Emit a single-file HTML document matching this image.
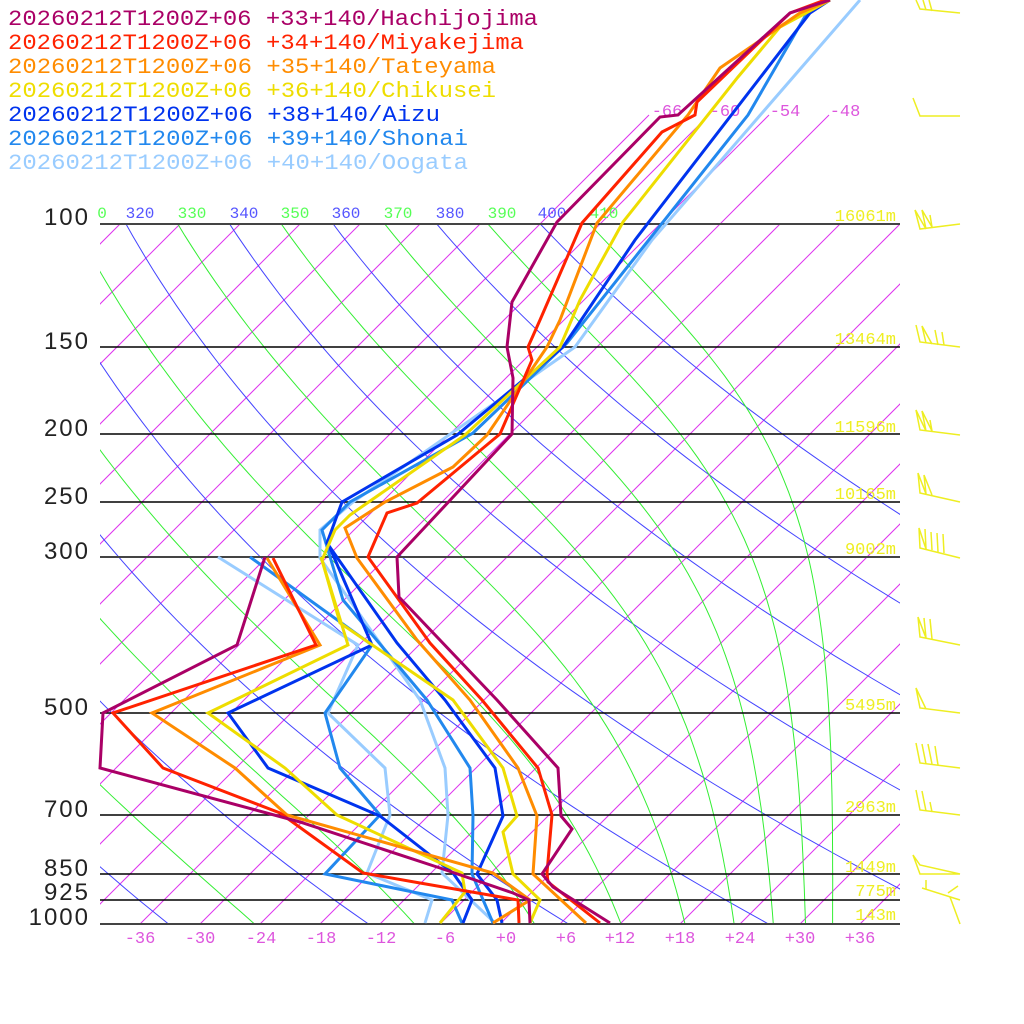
<!DOCTYPE html>
<html><head><meta charset="utf-8"><style>
body{margin:0;background:#fff;}
svg{display:block;}
.lg{font-family:"Liberation Mono",monospace;font-size:22px;}
.pl{font-family:"Liberation Sans",sans-serif;font-size:24px;fill:#222;letter-spacing:2px;}
.tl{font-family:"Liberation Mono",monospace;font-size:17px;fill:#dd55dd;}
.hl{font-family:"Liberation Mono",monospace;font-size:17px;fill:#eeee22;}
.th{font-family:"Liberation Mono",monospace;font-size:16px;}
</style></head><body>
<svg id="s" width="1024" height="1024" viewBox="0 0 1024 1024" xmlns="http://www.w3.org/2000/svg">
<defs><clipPath id="c"><rect x="100" y="0" width="800" height="924"/></clipPath><clipPath id="c2"><rect x="100" y="224" width="800" height="700"/></clipPath></defs>
<g id="grid"></g>
<g stroke="#000" stroke-width="1.5">
<line x1="100" y1="224" x2="900" y2="224" stroke="#444" stroke-width="2"/>
<line x1="100" y1="347" x2="900" y2="347"/>
<line x1="100" y1="434" x2="900" y2="434"/>
<line x1="100" y1="502" x2="900" y2="502"/>
<line x1="100" y1="557" x2="900" y2="557" stroke="#444" stroke-width="2"/>
<line x1="100" y1="713" x2="900" y2="713"/>
<line x1="100" y1="815" x2="900" y2="815"/>
<line x1="100" y1="874" x2="900" y2="874"/>
<line x1="100" y1="900" x2="900" y2="900"/>
<line x1="100" y1="924" x2="900" y2="924" stroke="#444" stroke-width="2"/>
</g>
<g class="pl" text-anchor="end">
<text x="90" y="225">100</text><text x="90" y="349">150</text><text x="90" y="436">200</text>
<text x="90" y="504">250</text><text x="90" y="559">300</text><text x="90" y="715">500</text>
<text x="90" y="817">700</text><text x="90" y="876">850</text><text x="90" y="900">925</text><text x="90" y="925">1000</text>
</g>
<g class="tl" text-anchor="middle">
<text x="140" y="943">-36</text><text x="200" y="943">-30</text><text x="261" y="943">-24</text><text x="321" y="943">-18</text><text x="381" y="943">-12</text><text x="445" y="943">-6</text><text x="506" y="943">+0</text><text x="566" y="943">+6</text><text x="620" y="943">+12</text><text x="680" y="943">+18</text><text x="740" y="943">+24</text><text x="800" y="943">+30</text><text x="860" y="943">+36</text>
<text x="667" y="116">-66</text><text x="725" y="116">-60</text><text x="785" y="116">-54</text><text x="845" y="116">-48</text>
</g>
<g class="hl" text-anchor="end">
<text x="896" y="221">16061m</text><text x="896" y="344">13464m</text><text x="896" y="432">11596m</text><text x="896" y="499">10165m</text><text x="896" y="554">9002m</text><text x="896" y="710">5495m</text><text x="896" y="812">2963m</text><text x="896" y="872">1449m</text><text x="896" y="896">775m</text><text x="896" y="920">143m</text>
</g>
<g class="th" text-anchor="middle">
<text x="102" y="218" fill="#55ff55">0</text>
<text x="140" y="218" fill="#5555ff">320</text><text x="192" y="218" fill="#55ff55">330</text>
<text x="244" y="218" fill="#5555ff">340</text><text x="295" y="218" fill="#55ff55">350</text>
<text x="346" y="218" fill="#5555ff">360</text><text x="398" y="218" fill="#55ff55">370</text>
<text x="450" y="218" fill="#5555ff">380</text><text x="502" y="218" fill="#55ff55">390</text>
<text x="552" y="218" fill="#5555ff">400</text><text x="604" y="218" fill="#55ff55">410</text>
</g>
<g fill="none" stroke-width="3" stroke-linejoin="miter">
<polyline stroke="#99ccff" points="860,0 652,240 575,347 353,502 320,530 320,558 420,700 445,768 448,815 442,873 495,923"/>
<polyline stroke="#99ccff" points="425,923 432,900 367,873 390,815 385,768 328,713 358,645 218,557"/>
<polyline stroke="#2288ee" points="823,0 807,13 748,115 567,343 473,433 350,502 322,530 343,600 427,700 470,768 473,816 472,874 493,923"/>
<polyline stroke="#2288ee" points="462,923 452,900 325,874 380,815 340,768 325,713 372,645 250,557"/>
<polyline stroke="#0033ee" points="830,0 810,13 635,240 563,347 457,435 342,502 327,543 397,643 445,700 495,768 503,816 477,874 497,900 502,923"/>
<polyline stroke="#0033ee" points="463,923 472,900 453,873 380,816 268,768 228,713 372,645 330,548"/>
<polyline stroke="#eedd00" points="830,0 780,27 738,77 623,222 580,300 560,347 465,435 350,515 335,530 322,560 340,623 453,700 503,768 517,816 503,832 513,874 540,900 530,923"/>
<polyline stroke="#eedd00" points="440,923 465,892 462,873 337,815 285,768 208,713 348,645 321,557"/>
<polyline stroke="#ff8c00" points="830,0 800,13 720,68 688,115 597,223 560,320 547,347 487,435 453,467 385,502 345,528 357,558 417,640 470,700 518,768 537,816 533,874 586,923"/>
<polyline stroke="#ff8c00" points="493,923 530,900 493,873 287,815 235,768 152,713 320,645 267,558"/>
<polyline stroke="#ff2200" points="825,0 790,13 697,102 695,115 662,132 582,223 540,320 528,347 532,360 500,434 417,503 387,513 368,557 430,643 482,700 538,768 552,815 547,873 548,882 600,923"/>
<polyline stroke="#ff2200" points="519,923 518,900 420,883 363,873 280,813 163,768 113,713 316,645 273,558"/>
<polyline stroke="#aa0066" points="830,0 790,13 678,115 660,117 557,222 512,302 507,347 513,378 512,434 397,557 399,597 497,700 558,768 561,816 572,829 542,874 553,887 610,923"/>
<polyline stroke="#aa0066" points="530,923 529,900 513,893 440,868 300,822 100,768 103,713 237,645 265,557"/>
</g>
<g fill="none" stroke="#eeee22" stroke-width="1.5">
<polyline points="960,13 920,9 916,0"/><line x1="926" y1="10" x2="923" y2="0"/><line x1="932" y1="11" x2="929" y2="0"/>
<polyline points="960,116 920,116 913,98 920,116"/>
<polyline points="960,224 920,229 915,210 926,229 922,210 932,227 930,215"/>
<polyline points="960,347 920,342 916,325"/><polyline points="926,343 922,326 932,344"/><line x1="938" y1="345" x2="935" y2="330"/><line x1="944" y1="345" x2="942" y2="332"/>
<polyline points="960,435 920,430 916,410 926,431 922,411 932,431 930,420"/>
<polyline points="960,502 920,493 918,473 926,494 924,475 932,495"/>
<polyline points="960,558 920,548 919,528 926,549"/><line x1="926" y1="549" x2="925" y2="529"/><line x1="932" y1="550" x2="931" y2="532"/><line x1="938" y1="552" x2="937" y2="533"/><line x1="944" y1="553" x2="943" y2="534"/>
<polyline points="960,645 920,637 918,617 926,638 924,618"/><line x1="932" y1="639" x2="930" y2="619"/>
<polyline points="960,713 920,708 916,688 926,709"/>
<polyline points="960,768 920,763 916,743"/><line x1="926" y1="764" x2="922" y2="744"/><line x1="932" y1="764" x2="928" y2="744"/><line x1="938" y1="765" x2="935" y2="746"/>
<polyline points="960,815 920,810 916,790"/><line x1="926" y1="811" x2="922" y2="791"/><line x1="932" y1="812" x2="930" y2="802"/>
<polyline points="960,874 920,865 913,855 920,874 960,874"/>
<polyline points="960,900 922,888"/><line x1="926" y1="889" x2="926" y2="880"/><line x1="950" y1="897" x2="960" y2="924"/><line x1="948" y1="893" x2="958" y2="886"/>
</g>
<g class="lg">
<text x="8" y="25" fill="#aa0066" textLength="530" lengthAdjust="spacingAndGlyphs">20260212T1200Z+06 +33+140/Hachijojima</text>
<text x="8" y="49" fill="#ff2200" textLength="516" lengthAdjust="spacingAndGlyphs">20260212T1200Z+06 +34+140/Miyakejima</text>
<text x="8" y="73" fill="#ff8c00" textLength="488" lengthAdjust="spacingAndGlyphs">20260212T1200Z+06 +35+140/Tateyama</text>
<text x="8" y="97" fill="#eedd00" textLength="488" lengthAdjust="spacingAndGlyphs">20260212T1200Z+06 +36+140/Chikusei</text>
<text x="8" y="121" fill="#0033ee" textLength="432" lengthAdjust="spacingAndGlyphs">20260212T1200Z+06 +38+140/Aizu</text>
<text x="8" y="145" fill="#2288ee" textLength="460" lengthAdjust="spacingAndGlyphs">20260212T1200Z+06 +39+140/Shonai</text>
<text x="8" y="169" fill="#99ccff" textLength="460" lengthAdjust="spacingAndGlyphs">20260212T1200Z+06 +40+140/Oogata</text>
</g>
</svg>
<script>
(function(){
var NS="http://www.w3.org/2000/svg",g=document.getElementById("grid");
function Y(p){return 924-304*Math.log(1000/p);}
function X(T,y){return 500+10*T+(924-y);}
function add(pts,col,clip){var e=document.createElementNS(NS,"polyline");e.setAttribute("points",pts.map(function(a){return a[0].toFixed(1)+","+a[1].toFixed(1)}).join(" "));e.setAttribute("fill","none");e.setAttribute("stroke",col);e.setAttribute("stroke-width","1");e.setAttribute("clip-path","url(#"+clip+")");g.appendChild(e);}
for(var T=-150;T<=42;T+=6){var y0=(T>=-66&&T<=-48)?115:224;add([[X(T,924),924],[X(T,y0),y0]],"#dd33ee","c");}
var ps=[];for(var i=0;i<=60;i++){ps.push(100*Math.pow(10,i/60));}
for(var th=200;th<=400;th+=20){var a=[];ps.forEach(function(p){var y=Y(p);a.push([X(th*Math.pow(p/1000,0.2857)-273.15,y),y]);});add(a,"#4444ff","c2");}
function the(T,p){var tc=T-273.15;var es=6.112*Math.exp(17.67*tc/(tc+243.5));var rs=0.622*es/Math.max(p-es,1);return T*Math.pow(1000/p,0.2857)*Math.exp(2.675e6*rs/(1004*T));}
for(var te=210;te<=410;te+=20){var a=[];ps.forEach(function(p){var lo=120,hi=330;for(var k=0;k<50;k++){var m=(lo+hi)/2;if(the(m,p)<te)lo=m;else hi=m;}var y=Y(p);a.push([X(lo-273.15,y),y]);});add(a,"#33ee33","c2");}
})();
</script>
</body></html>
